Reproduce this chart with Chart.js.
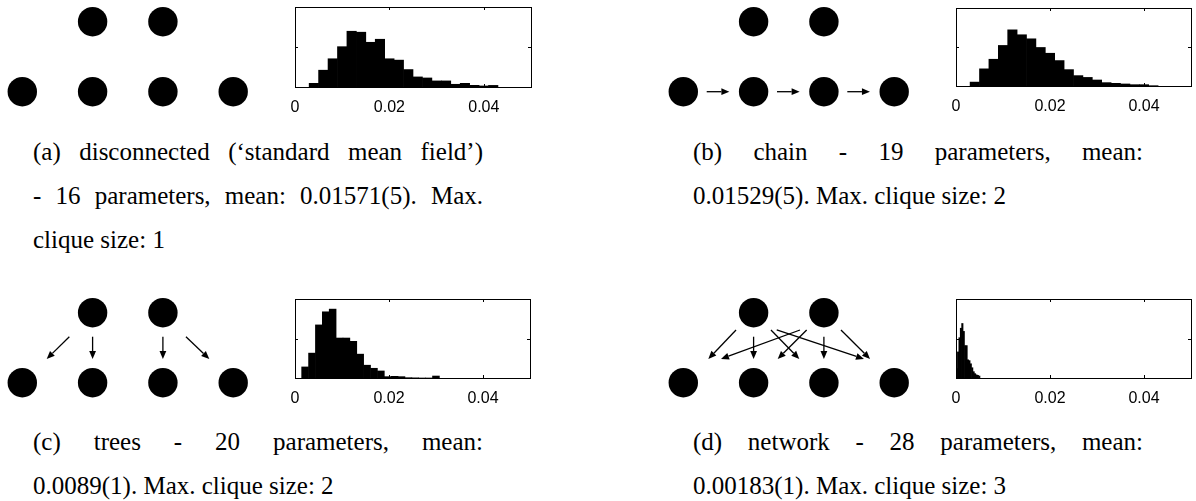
<!DOCTYPE html>
<html>
<head>
<meta charset="utf-8">
<script src="https://cdn.jsdelivr.net/npm/chart.js@4.4.0/dist/chart.umd.min.js"></script>
<style>
  html, body { margin: 0; padding: 0; background: #fff; overflow: hidden; }
  body { width: 1196px; height: 501px; position: relative; }
  canvas { position: absolute; }
  .cap { position: absolute; width: 450px; font: 25px/44px "Liberation Serif", "Times New Roman", serif; color: #000; white-space: nowrap; }
  .j { text-align: justify; text-align-last: justify; }
</style>
</head>
<body>
<canvas id="gA" width="270" height="120" style="left:0px;top:0px"></canvas>
<canvas id="hA" width="276" height="120" style="left:275px;top:2px"></canvas>
<canvas id="gB" width="270" height="120" style="left:660px;top:0px"></canvas>
<canvas id="hB" width="259" height="118" style="left:936px;top:3px"></canvas>
<canvas id="gC" width="270" height="120" style="left:0px;top:291px"></canvas>
<canvas id="hC" width="275" height="119" style="left:275px;top:294px"></canvas>
<canvas id="gD" width="270" height="120" style="left:660px;top:291px"></canvas>
<canvas id="hD" width="259" height="119" style="left:936px;top:294px"></canvas>

<div class="cap" style="left:33px;top:130px">
  <div class="j">(a) disconnected (‘standard mean field’)</div>
  <div class="j">- 16 parameters, mean: 0.01571(5). Max.</div>
  <div>clique size: 1</div>
</div>
<div class="cap" style="left:693px;top:130px">
  <div class="j">(b) chain - 19 parameters, mean:</div>
  <div>0.01529(5). Max. clique size: 2</div>
</div>
<div class="cap" style="left:33px;top:420px">
  <div class="j">(c) trees - 20 parameters, mean:</div>
  <div>0.0089(1). Max. clique size: 2</div>
</div>
<div class="cap" style="left:693px;top:420px">
  <div class="j">(d) network - 28 parameters, mean:</div>
  <div>0.00183(1). Max. clique size: 3</div>
</div>

<script>
// graph nodes: two parents on top, four children below
const nodeX = [1, 2, 0, 1, 2, 3];
const nodeY = [1, 1, 0, 0, 0, 0];

// arrows as [x0, y0, x1, y1] in node grid units
const arrowsA = [];
const arrowsB = [[0.333, 0, 0.655, 0], [1.333, 0, 1.655, 0], [2.333, 0, 2.655, 0]];
const arrowsC = [[0.669, 0.657, 0.347, 0.339], [1, 0.657, 1, 0.339],
                 [2, 0.657, 2, 0.339], [2.328, 0.657, 2.66, 0.339]];
const arrowsD = [[0.75, 0.753, 0.356, 0.339], [1, 0.657, 1, 0.339],
                 [1.247, 0.753, 1.65, 0.339], [1.329, 0.753, 2.57, 0.339],
                 [1.66, 0.753, 0.536, 0.339], [1.755, 0.753, 1.343, 0.339],
                 [2, 0.657, 2, 0.339], [2.243, 0.753, 2.656, 0.339]];

// histograms (heights relative to the plot box)
const binsAB = [0.004, 0.006, 0.008, 0.010, 0.012, 0.014, 0.016, 0.018, 0.020, 0.022,
                0.024, 0.026, 0.028, 0.030, 0.032, 0.034, 0.036, 0.038, 0.040, 0.042];
const histA = [0.046, 0.21, 0.353, 0.504, 0.697, 0.685, 0.559, 0.597, 0.353, 0.336,
               0.218, 0.126, 0.113, 0.076, 0.076, 0.034, 0.046, 0.021, 0.013, 0.02];
const histB = [0.05, 0.22, 0.343, 0.52, 0.72, 0.657, 0.605, 0.494, 0.42, 0.326,
               0.21, 0.133, 0.11, 0.077, 0.043, 0.034, 0.026, 0.017, 0.017, 0.004];
const binsC = [0.00215, 0.00362, 0.00508, 0.00655, 0.00801, 0.00948, 0.01094, 0.01241, 0.01387, 0.01534,
               0.01680, 0.01827, 0.01973, 0.02120, 0.02266, 0.02413, 0.02559, 0.02706, 0.02852, 0.02999];
const histC = [0.14, 0.315, 0.672, 0.838, 0.872, 0.506, 0.506, 0.464, 0.302, 0.162,
               0.123, 0.089, 0.017, 0.021, 0.017, 0.004, 0.002, 0, 0, 0.025];
const binsD = [0.00015, 0.00045, 0.00075, 0.00105, 0.00135, 0.00165, 0.00195, 0.00225, 0.00255,
               0.00285, 0.00315, 0.00345, 0.00375, 0.00405, 0.00435, 0.00465, 0.00495];
const histD = [0.12, 0.33, 0.51, 0.63, 0.69, 0.59, 0.41, 0.41, 0.23,
               0.22, 0.18, 0.13, 0.08, 0.055, 0.04, 0.034, 0.025];

const xTicks = [0, 0.02, 0.04];
const xTickLabels = ['0', '0.02', '0.04'];
const yTicks = [0.5];

const arrowPlugin = {
    id: 'arrows',
    afterDatasetsDraw(chart, args, opts) {
        const ctx = chart.ctx, xs = chart.scales.x, ys = chart.scales.y;
        ctx.save();
        ctx.strokeStyle = '#000';
        ctx.fillStyle = '#000';
        ctx.lineWidth = 1.3;
        (opts.list || []).forEach(a => {
            const x0 = xs.getPixelForValue(a[0]), y0 = ys.getPixelForValue(a[1]);
            const x1 = xs.getPixelForValue(a[2]), y1 = ys.getPixelForValue(a[3]);
            const ang = Math.atan2(y1 - y0, x1 - x0);
            const len = 8, half = 3.4;
            const bx = x1 - len * Math.cos(ang), by = y1 - len * Math.sin(ang);
            ctx.beginPath();
            ctx.moveTo(x0, y0);
            ctx.lineTo(bx, by);
            ctx.stroke();
            ctx.beginPath();
            ctx.moveTo(x1, y1);
            ctx.lineTo(bx + half * Math.sin(ang), by - half * Math.cos(ang));
            ctx.lineTo(bx - half * Math.sin(ang), by + half * Math.cos(ang));
            ctx.closePath();
            ctx.fill();
        });
        ctx.restore();
    }
};

const framePlugin = {
    id: 'frame',
    afterDatasetsDraw(chart) {
        const ctx = chart.ctx, a = chart.chartArea, xs = chart.scales.x, ys = chart.scales.y;
        ctx.save();
        ctx.strokeStyle = '#000';
        ctx.lineWidth = 1;
        ctx.strokeRect(Math.round(a.left) + 0.5, Math.round(a.top) + 0.5,
                       Math.round(a.right - a.left), Math.round(a.bottom - a.top));
        ctx.beginPath();
        xTicks.forEach(v => {
            const px = Math.round(xs.getPixelForValue(v)) + 0.5;
            ctx.moveTo(px, a.top); ctx.lineTo(px, a.top + 3);
            ctx.moveTo(px, a.bottom); ctx.lineTo(px, a.bottom - 3);
        });
        yTicks.forEach(v => {
            const py = Math.round(ys.getPixelForValue(v)) + 0.5;
            ctx.moveTo(a.left, py); ctx.lineTo(a.left + 3, py);
            ctx.moveTo(a.right, py); ctx.lineTo(a.right - 3, py);
        });
        ctx.stroke();
        ctx.restore();
    }
};

function createGraph(canvasId, arrows, padLeft, padRight) {
    new Chart(document.getElementById(canvasId), {
        type: 'scatter',
        data: {
            datasets: [{
                data: nodeX.map((x, i) => ({ x: x, y: nodeY[i] })),
                backgroundColor: '#000',
                borderWidth: 0,
                pointRadius: 14.7,
                pointHoverRadius: 14.7,
                clip: false
            }]
        },
        options: {
            responsive: false,
            animation: false,
            events: [],
            layout: { padding: { left: padLeft, right: padRight, top: 21.7, bottom: 28.3 } },
            plugins: { legend: { display: false }, tooltip: { enabled: false }, arrows: { list: arrows } },
            scales: {
                x: { type: 'linear', display: false, min: 0, max: 3 },
                y: { type: 'linear', display: false, min: 0, max: 1 }
            }
        },
        plugins: [arrowPlugin]
    });
}

function createHistogram(canvasId, bins, values, padRight, padBottom) {
    new Chart(document.getElementById(canvasId), {
        type: 'bar',
        data: {
            datasets: [{
                data: bins.map((b, i) => ({ x: b, y: values[i] })),
                backgroundColor: '#000',
                borderWidth: 0,
                barPercentage: 1,
                categoryPercentage: 1
            }]
        },
        options: {
            responsive: false,
            animation: false,
            events: [],
            layout: { padding: { left: 20, right: padRight, top: 5, bottom: padBottom } },
            plugins: { legend: { display: false }, tooltip: { enabled: false } },
            scales: {
                x: {
                    type: 'linear',
                    min: 0,
                    max: 0.05,
                    offset: false,
                    grid: { display: false },
                    border: { display: false },
                    afterBuildTicks: (scale) => { scale.ticks = xTicks.map(v => ({ value: v })); },
                    afterFit: (scale) => { scale.height = 30; },
                    ticks: {
                        autoSkip: false,
                        maxRotation: 0,
                        padding: 3,
                        color: '#000',
                        font: { family: '"Liberation Sans", Arial, sans-serif', size: 16 },
                        callback: (v) => xTickLabels[xTicks.indexOf(v)]
                    }
                },
                y: { display: false, min: 0, max: 1 }
            }
        },
        plugins: [framePlugin]
    });
}

createGraph('gA', arrowsA, 22.3, 36.8);
createGraph('gB', arrowsB, 23.3, 35.8);
createGraph('gC', arrowsC, 22.3, 36.8);
createGraph('gD', arrowsD, 23.3, 35.8);

createHistogram('hA', binsAB, histA, 20, 5);
createHistogram('hB', binsAB, histB, 4, 5);
createHistogram('hC', binsC, histC, 20, 5);
createHistogram('hD', binsD, histD, 4, 5);
</script>
</body>
</html>
